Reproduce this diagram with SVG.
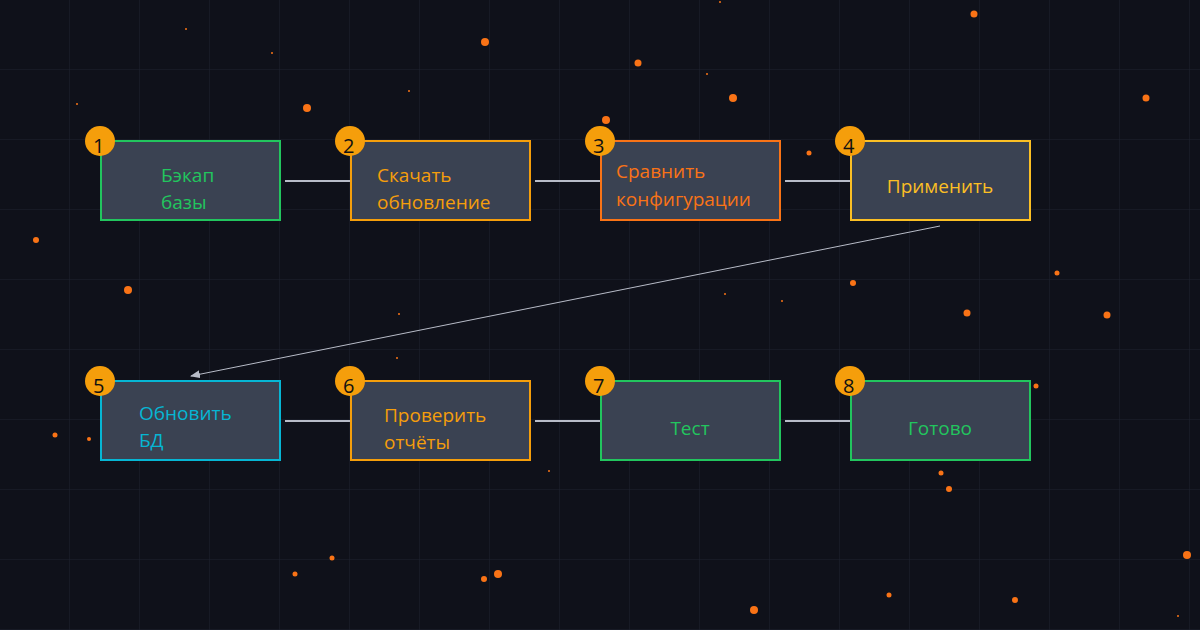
<svg xmlns="http://www.w3.org/2000/svg" width="1200" height="630" viewBox="0 0 1200 630">
<defs>
<pattern id="grid" width="70" height="70" patternUnits="userSpaceOnUse"><path d="M70 0V70M0 70H70" fill="none" stroke="#1e2230" stroke-width="1"/></pattern>
<marker id="ah" markerWidth="10" markerHeight="8" refX="9" refY="4" orient="auto" markerUnits="userSpaceOnUse"><path d="M0 0L10 4L0 8z" fill="#b8bcc8"/></marker>
<style>
.box{fill:#3a4252;stroke-width:2}
.t{font-family:"Open Sans","Noto Sans",sans-serif;font-size:19px}
.b{fill:#f59e0b}
.bn{font-family:"Open Sans","Noto Sans",sans-serif;font-size:20px;fill:#111}
.c{stroke:#b8bcc8;stroke-width:2;fill:none}
.d{fill:#f97316}
</style>
</defs>
<rect width="1200" height="630" fill="#0f111a"/>
<rect width="1200" height="630" fill="url(#grid)"/>
<g id="dots">
<circle class="d" cx="485" cy="42" r="4"/><circle class="d" cx="638" cy="63" r="3.5"/><circle class="d" cx="733" cy="98" r="4"/><circle class="d" cx="974" cy="14" r="3.5"/><circle class="d" cx="1146" cy="98" r="3.5"/><circle class="d" cx="307" cy="108" r="4"/><circle class="d" cx="606" cy="120" r="4"/><circle class="d" cx="629" cy="151" r="4"/><circle class="d" cx="809" cy="153" r="2.5"/><circle class="d" cx="36" cy="240" r="3"/><circle class="d" cx="128" cy="290" r="4"/><circle class="d" cx="853" cy="283" r="3"/><circle class="d" cx="1057" cy="273" r="2.5"/><circle class="d" cx="967" cy="313" r="3.5"/><circle class="d" cx="1107" cy="315" r="3.5"/><circle class="d" cx="55" cy="435" r="2.5"/><circle class="d" cx="89" cy="439" r="2"/><circle class="d" cx="733" cy="416" r="3.5"/><circle class="d" cx="930" cy="396" r="2.5"/><circle class="d" cx="1011" cy="390" r="4"/><circle class="d" cx="1036" cy="386" r="2.5"/><circle class="d" cx="1021" cy="415" r="4"/><circle class="d" cx="856" cy="445" r="4"/><circle class="d" cx="941" cy="473" r="2.5"/><circle class="d" cx="949" cy="489" r="3"/><circle class="d" cx="332" cy="558" r="2.5"/><circle class="d" cx="295" cy="574" r="2.5"/><circle class="d" cx="484" cy="579" r="3"/><circle class="d" cx="498" cy="574" r="4"/><circle class="d" cx="889" cy="595" r="2.5"/><circle class="d" cx="1015" cy="600" r="3"/><circle class="d" cx="754" cy="610" r="4"/><circle class="d" cx="1187" cy="555" r="4"/><circle class="d" cx="441" cy="178" r="2.5"/>
<circle class="d" cx="186" cy="29" r="1"/><circle class="d" cx="272" cy="53" r="1"/><circle class="d" cx="77" cy="104" r="1"/><circle class="d" cx="409" cy="91" r="1"/><circle class="d" cx="707" cy="74" r="1"/><circle class="d" cx="720" cy="2" r="1"/><circle class="d" cx="495" cy="194" r="1"/><circle class="d" cx="725" cy="294" r="1"/><circle class="d" cx="782" cy="301" r="1"/><circle class="d" cx="399" cy="314" r="1"/><circle class="d" cx="397" cy="358" r="1"/><circle class="d" cx="549" cy="471" r="1"/><circle class="d" cx="1178" cy="616" r="1"/>
</g>
<g id="connectors">
<line class="c" x1="285" y1="181" x2="350" y2="181"/>
<line class="c" x1="535" y1="181" x2="600" y2="181"/>
<line class="c" x1="785" y1="181" x2="850" y2="181"/>
<line class="c" x1="285" y1="421" x2="350" y2="421"/>
<line class="c" x1="535" y1="421" x2="600" y2="421"/>
<line class="c" x1="785" y1="421" x2="850" y2="421"/>
<line x1="940" y1="226" x2="191" y2="376" stroke="#b8bcc8" stroke-width="1" marker-end="url(#ah)"/>
</g>
<g id="n1"><rect class="box" x="101" y="141" width="179" height="79" stroke="#22c55e"/><text class="t" x="161" y="182" fill="#22c55e">Бэкап</text><text class="t" x="161" y="209" fill="#22c55e">базы</text><circle class="b" cx="100" cy="141" r="15"/><text class="bn" x="93" y="153">1</text></g>
<g id="n2"><rect class="box" x="351" y="141" width="179" height="79" stroke="#f59e0b"/><text class="t" x="377" y="182" fill="#f59e0b">Скачать</text><text class="t" x="377" y="209" fill="#f59e0b">обновление</text><circle class="b" cx="350" cy="141" r="15"/><text class="bn" x="343" y="153">2</text></g>
<g id="n3"><rect class="box" x="601" y="141" width="179" height="79" stroke="#f97316"/><text class="t" x="616" y="178" fill="#f97316">Сравнить</text><text class="t" x="616" y="206" fill="#f97316">конфигурации</text><circle class="b" cx="600" cy="141" r="15"/><text class="bn" x="593" y="153">3</text></g>
<g id="n4"><rect class="box" x="851" y="141" width="179" height="79" stroke="#fbbf24"/><text class="t" x="940" y="193" fill="#fbbf24" text-anchor="middle">Применить</text><circle class="b" cx="850" cy="141" r="15"/><text class="bn" x="843" y="153">4</text></g>
<g id="n5"><rect class="box" x="101" y="381" width="179" height="79" stroke="#06b6d4"/><text class="t" x="139" y="420" fill="#06b6d4">Обновить</text><text class="t" x="139" y="447" fill="#06b6d4">БД</text><circle class="b" cx="100" cy="381" r="15"/><text class="bn" x="93" y="393">5</text></g>
<g id="n6"><rect class="box" x="351" y="381" width="179" height="79" stroke="#f59e0b"/><text class="t" x="384" y="422" fill="#f59e0b">Проверить</text><text class="t" x="384" y="449" fill="#f59e0b">отчёты</text><circle class="b" cx="350" cy="381" r="15"/><text class="bn" x="343" y="393">6</text></g>
<g id="n7"><rect class="box" x="601" y="381" width="179" height="79" stroke="#22c55e"/><text class="t" x="690" y="435" fill="#22c55e" text-anchor="middle">Тест</text><circle class="b" cx="600" cy="381" r="15"/><text class="bn" x="593" y="393">7</text></g>
<g id="n8"><rect class="box" x="851" y="381" width="179" height="79" stroke="#22c55e"/><text class="t" x="940" y="435" fill="#22c55e" text-anchor="middle">Готово</text><circle class="b" cx="850" cy="381" r="15"/><text class="bn" x="843" y="393">8</text></g>
</svg>
